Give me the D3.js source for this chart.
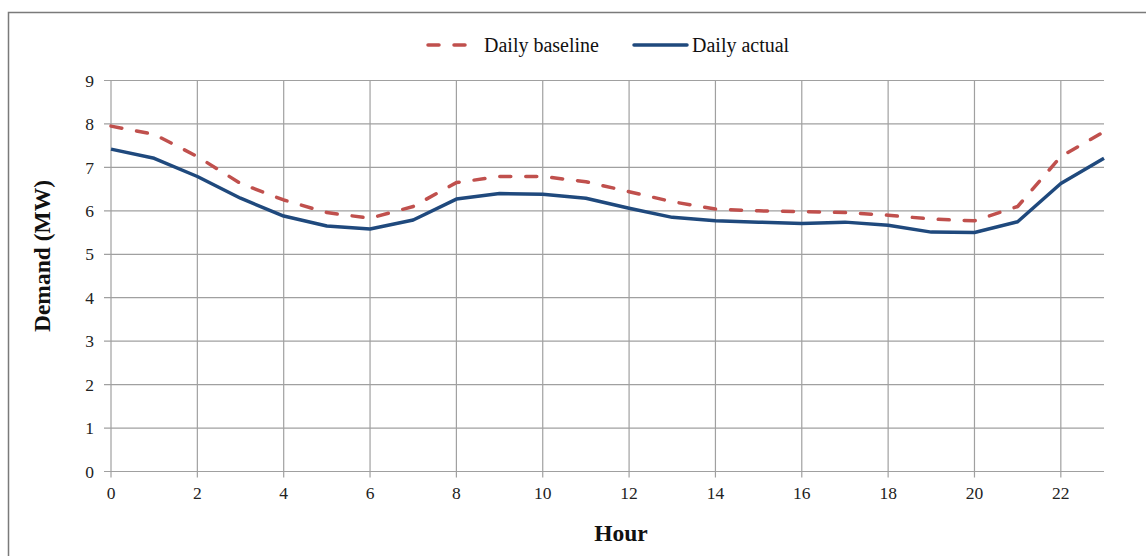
<!DOCTYPE html>
<html><head><meta charset="utf-8">
<script src="https://cdn.jsdelivr.net/npm/d3@7"></script>
<style>body{margin:0;background:#fff}svg{display:block}</style>
</head><body>
<script>
const hours = d3.range(0, 24);
const baseline = [7.95,7.76,7.25,6.63,6.25,5.96,5.83,6.10,6.65,6.79,6.79,6.67,6.44,6.21,6.04,6.00,5.98,5.96,5.90,5.81,5.77,6.10,7.25,7.82];
const actual   = [7.42,7.21,6.79,6.29,5.88,5.65,5.58,5.79,6.27,6.40,6.38,6.29,6.06,5.85,5.77,5.74,5.71,5.74,5.67,5.51,5.50,5.75,6.63,7.21];
const xTicks = [0,2,4,6,8,10,12,14,16,18,20,22];
const yTicks = [0,1,2,3,4,5,6,7,8,9];
const seriesNames = ["Daily baseline","Daily actual"];

const W = 1146, H = 556;
const svg = d3.select("body").append("svg").attr("width", W).attr("height", H);
const font = "Liberation Serif, Times New Roman, serif";

// frame
svg.append("rect").attr("x",8.5).attr("y",12.5).attr("width",W+20).attr("height",H+20)
  .attr("fill","none").attr("stroke","#7a7a7a").attr("stroke-width",1.5);

const x = d3.scaleLinear().domain([0,23]).range([111,1104]);
const y = d3.scaleLinear().domain([0,9]).range([471.5,80.5]);

const grid = svg.append("g").attr("stroke","#a0a0a0").attr("stroke-width",1.2);
yTicks.forEach(t => grid.append("line").attr("x1",104).attr("x2",x(23)).attr("y1",y(t)).attr("y2",y(t)));
xTicks.forEach(t => grid.append("line").attr("x1",x(t)).attr("x2",x(t)).attr("y1",y(9)).attr("y2",y(0)+6));

// y tick labels
svg.append("g").selectAll("text").data(yTicks).join("text")
  .attr("x",94).attr("y",d=>y(d)).attr("dy","0.35em").attr("text-anchor","end")
  .attr("font-family",font).attr("font-size",17.5).attr("fill","#222").text(d=>d);
// x tick labels
svg.append("g").selectAll("text").data(xTicks).join("text")
  .attr("x",d=>x(d)).attr("y",499).attr("text-anchor","middle")
  .attr("font-family",font).attr("font-size",17.5).attr("fill","#222").text(d=>d);

// axis titles
svg.append("text").attr("transform","translate(50,256) rotate(-90)").attr("text-anchor","middle")
  .attr("font-family",font).attr("font-size",23.5).attr("font-weight","bold").attr("fill","#111").text("Demand (MW)");
svg.append("text").attr("x",621).attr("y",541).attr("text-anchor","middle")
  .attr("font-family",font).attr("font-size",23.5).attr("font-weight","bold").attr("fill","#111").text("Hour");

const line = d3.line().x((d,i)=>x(hours[i])).y(d=>y(d));
const red = "#C0504D", blue = "#1F497D";
svg.append("path").datum(baseline).attr("d",line).attr("fill","none").attr("stroke",red)
  .attr("stroke-width",3.5).attr("stroke-dasharray","11,15").attr("stroke-linecap","round").attr("stroke-linejoin","round");
svg.append("path").datum(actual).attr("d",line).attr("fill","none").attr("stroke",blue)
  .attr("stroke-width",3.5).attr("stroke-linejoin","round");

// legend
const lg = svg.append("g");
lg.append("line").attr("x1",428).attr("x2",469).attr("y1",45).attr("y2",45).attr("stroke",red)
  .attr("stroke-width",3.5).attr("stroke-dasharray","11,15").attr("stroke-linecap","round");
lg.append("text").attr("x",484).attr("y",45).attr("dy","0.35em").attr("font-family",font).attr("font-size",20).attr("fill","#111").text(seriesNames[0]);
lg.append("line").attr("x1",634).attr("x2",687).attr("y1",45).attr("y2",45).attr("stroke",blue).attr("stroke-width",3.5).attr("stroke-linecap","round");
lg.append("text").attr("x",692).attr("y",45).attr("dy","0.35em").attr("font-family",font).attr("font-size",20).attr("fill","#111").text(seriesNames[1]);
</script>
</body></html>
